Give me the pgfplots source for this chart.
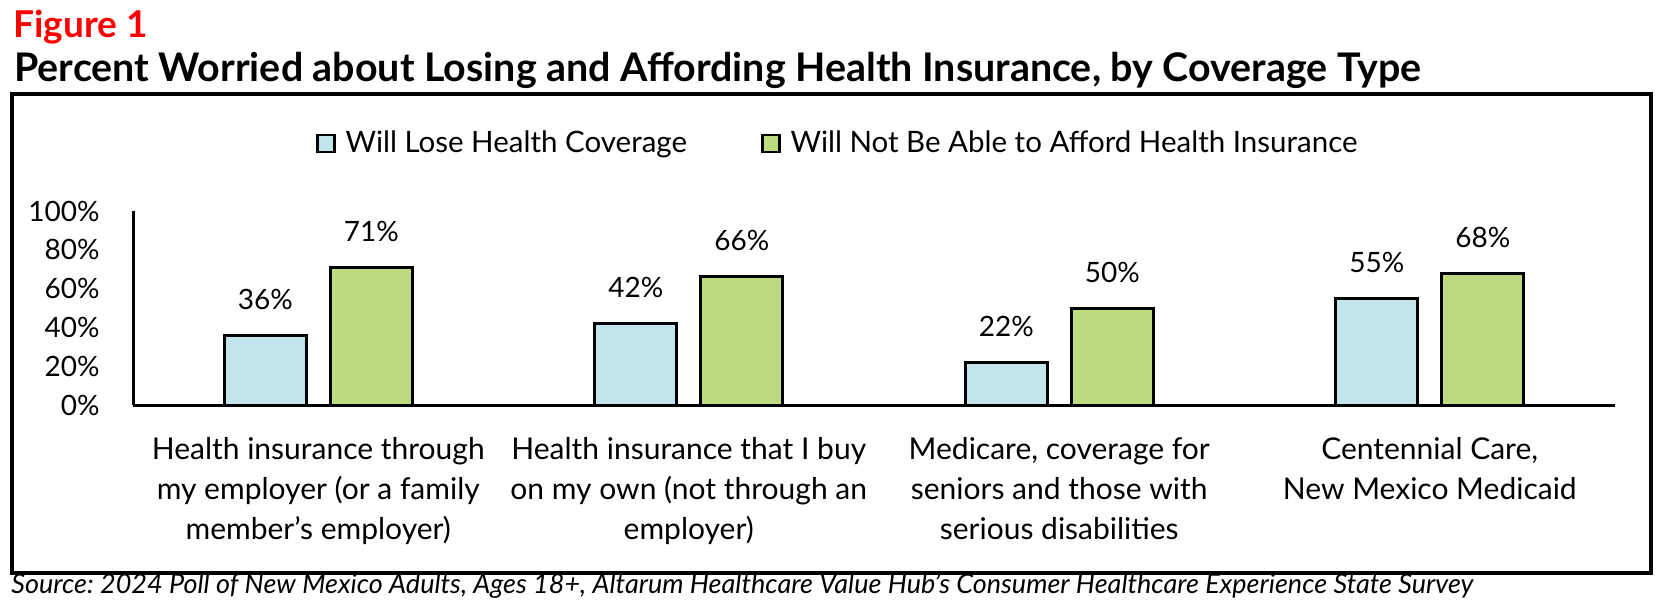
\documentclass[border=0pt]{standalone}
\usepackage{pgfplots}
\pgfplotsset{compat=1.18}
\usepackage{fontspec}
\setmainfont{Lato}
\definecolor{barblue}{RGB}{193,229,235}
\definecolor{bargreen}{RGB}{190,218,126}
\definecolor{figred}{RGB}{255,0,0}
\frenchspacing
\begin{document}
\begin{tikzpicture}
\useasboundingbox (0,0) rectangle (833.5bp,-306.5bp);
\draw[line width=2bp] (6bp,-47bp) rectangle (825.5bp,-286.5bp);
\node[anchor=base west, inner sep=0pt, font=\fontsize{18.5bp}{23bp}\selectfont\bfseries, text=figred] at (6.5bp,-18.5bp) {Figure 1};
\node[anchor=base west, inner sep=0pt, font=\fontsize{19.7bp}{23bp}\selectfont\bfseries] at (7bp,-40.5bp) {Percent Worried about Losing and Affording Health Insurance, by Coverage Type};
\node[anchor=base west, inner sep=0pt, font=\fontsize{13.5bp}{16bp}\selectfont\itshape] at (5.5bp,-296.5bp) {Source: 2024 Poll of New Mexico Adults, Ages 18+, Altarum Healthcare Value Hub's Consumer Healthcare Experience State Survey};
\begin{axis}[
  at={(66.5bp,-202.5bp)}, anchor=south west,
  scale only axis, width=741bp, height=97bp,
  xmin=-0.5, xmax=3.5, ymin=0, ymax=100,
  axis x line*=bottom, axis y line*=left,
  axis line style={line width=1.5bp, -},
  /pgf/number format/assume math mode=true,
  xtick={0,1,2,3},
  xticklabels={{Health insurance through\\my employer (or a family\\member's employer)},
               {Health insurance that I buy\\on my own (not through an\\employer)},
               {Medicare, coverage for\\seniors and those with\\serious disabilities},
               {Centennial Care,\\New Mexico Medicaid}},
  xticklabel style={align=center, anchor=north, inner sep=0pt, yshift=-16bp,
                    font=\fontsize{15bp}{20bp}\selectfont},
  ytick={0,20,40,60,80,100},
  yticklabel={\pgfmathprintnumber{\tick}\%},
  yticklabel style={anchor=east, inner sep=0pt, xshift=-16.5bp,
                    font=\fontsize{14bp}{17bp}\selectfont},
  major tick length=0pt,
  tick style={draw=none},
  clip=false,
  legend columns=2,
  legend style={at={(0.1235,1.348)}, anchor=west, draw=none, fill=none,
                inner sep=0pt, outer sep=0pt, column sep=5bp,
                /tikz/every even column/.append style={column sep=37bp},
                nodes={inner sep=0pt, font=\fontsize{14.75bp}{18bp}\selectfont}},
  legend image code/.code={\draw[#1, line width=1.25bp] (0bp,-4.25bp) rectangle (8.5bp,4.25bp);},
  nodes near coords={\pgfmathprintnumber{\pgfplotspointmeta}\%},
  every node near coord/.append style={anchor=base, yshift=13bp, inner sep=0pt,
                    font=\fontsize{14bp}{17bp}\selectfont, text=black},
]
\addplot[ybar, bar width=41bp, bar shift=-26.5bp, fill=barblue, draw=black, line width=1.5bp,
  every node near coord/.append style={xshift=-26.5bp}]
  coordinates {(0,36) (1,42) (2,22) (3,55)};
\addlegendentry{Will Lose Health Coverage}
\addplot[ybar, bar width=41bp, bar shift=26.5bp, fill=bargreen, draw=black, line width=1.5bp,
  every node near coord/.append style={xshift=26.5bp}]
  coordinates {(0,71) (1,66) (2,50) (3,68)};
\addlegendentry{Will Not Be Able to Afford Health Insurance}
\end{axis}
\end{tikzpicture}
\end{document}
